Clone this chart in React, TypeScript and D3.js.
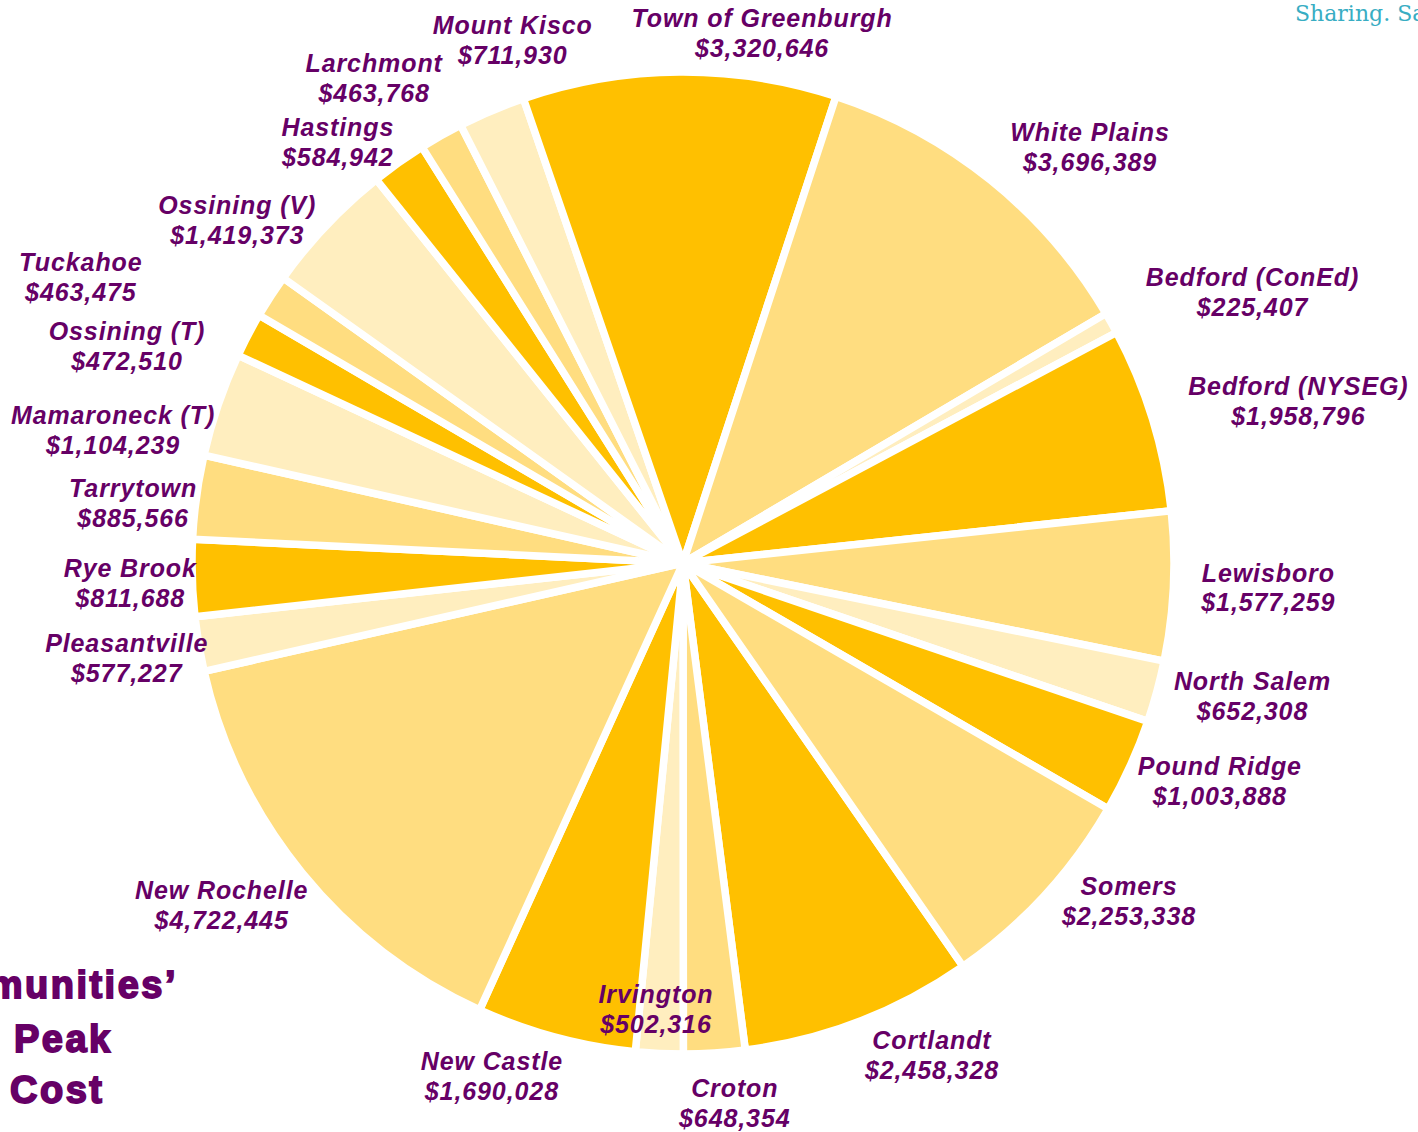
import React from "react";
import * as d3 from "d3";

const names = [
  "Cortlandt", "Croton", "Irvington", "New Castle", "New Rochelle", "Pleasantville",
  "Rye Brook", "Tarrytown", "Mamaroneck (T)", "Ossining (T)", "Tuckahoe", "Ossining (V)",
  "Hastings", "Larchmont", "Mount Kisco", "Town of Greenburgh", "White Plains",
  "Bedford (ConEd)", "Bedford (NYSEG)", "Lewisboro", "North Salem", "Pound Ridge", "Somers",
];
const values = [
  2458328, 648354, 502316, 1690028, 4722445, 577227,
  811688, 885566, 1104239, 472510, 463475, 1419373,
  584942, 463768, 711930, 3320646, 3696389,
  225407, 1958796, 1577259, 652308, 1003888, 2253338,
];
// label nudges relative to the label-arc centroid
const labelNudges: [number, number][] = [
  [48, -31], [16, -19], [0, -113], [-46, -28], [-27, -11], [-4, 2],
  [7, 3], [5, 15], [-40, 48], [-60, 43], [-132, 18], [-39, 42],
  [-21, 36], [-33, 2], [48, -7], [83, 30], [56, 20],
  [81, 3], [80, 2], [26, -2], [29, -14], [27, -14], [34, -41],
];
const palette = ["#FFC000", "#FFDD80", "#FFEEBF"];
const titleLines = ["munities\u2019", "Peak", "Cost"];
const cornerText = "Sharing. Sa";

const W = 1418;
const H = 1132;

export default function App() {
  const cx = 683;
  const cy = 563;
  const R = 491;
  const start = (145.23 * Math.PI) / 180;
  const rows = names.map((n, i) => ({ name: n, value: values[i], i }));
  const pie = d3
    .pie<any>()
    .sort(null)
    .value((d) => d.value)
    .startAngle(start)
    .endAngle(start + 2 * Math.PI);
  const arcs = pie(rows);
  const arc = d3.arc<any>().innerRadius(0).outerRadius(R);
  const labelArc = d3.arc<any>().innerRadius(560).outerRadius(560);
  const fmt = d3.format("$,");
  const purple = "#660066";

  return (
    <svg
      width={W}
      height={H}
      style={{ position: "absolute", left: 0, top: 0, background: "#fff" }}
    >
      <g transform={`translate(${cx},${cy})`}>
        {arcs.map((a, i) => (
          <path
            key={i}
            d={arc(a) as string}
            fill={palette[i % 3]}
            stroke="#fff"
            strokeWidth={7.5}
            strokeLinejoin="miter"
          />
        ))}
        {arcs.map((a, i) => {
          const [x, y] = labelArc.centroid(a);
          const lx = x + labelNudges[i][0];
          const ly = y + labelNudges[i][1];
          return (
            <text
              key={"l" + i}
              textAnchor="middle"
              fontFamily="'Liberation Sans', Arial, sans-serif"
              fontWeight="bold"
              fontStyle="italic"
              fontSize={25}
              letterSpacing={0.9}
              fill={purple}
            >
              <tspan x={lx} y={ly - 6}>{a.data.name}</tspan>
              <tspan x={lx} y={ly + 24}>{fmt(a.data.value)}</tspan>
            </text>
          );
        })}
      </g>
      <g
        fontFamily="'Liberation Sans', Arial, sans-serif"
        fontWeight="bold"
        fontSize={38}
        fill="#660066"
        stroke="#660066"
        strokeWidth={1.8}
        letterSpacing={2.5}
      >
        <text x={178} y={998} textAnchor="end">{titleLines[0]}</text>
        <text x={14} y={1052}>{titleLines[1]}</text>
        <text x={10} y={1103}>{titleLines[2]}</text>
      </g>
      <text
        x={1295}
        y={21}
        fontFamily="'DejaVu Serif', serif"
        fontSize={22}
        fill="#38ADC3"
      >
        {cornerText}
      </text>
    </svg>
  );
}
